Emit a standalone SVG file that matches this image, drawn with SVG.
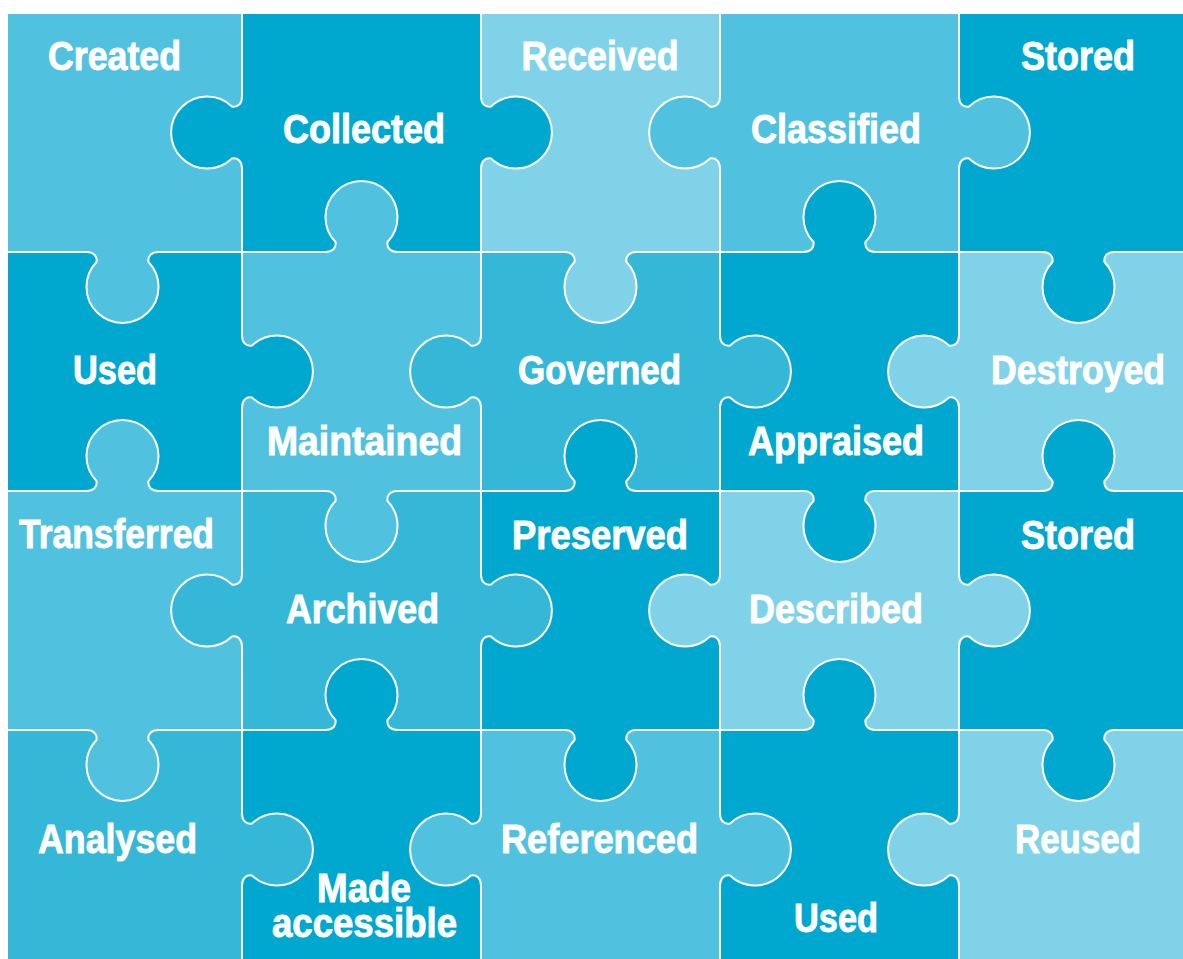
<svg xmlns="http://www.w3.org/2000/svg" width="1183" height="959" viewBox="0 0 1183 959">
<style>
.pc{fill-rule:evenodd}
.d{fill:#00a8cf}.m{fill:#50c1df}.l{fill:#80d2e8}.g{fill:#35b7d8}
.cut{fill:none;stroke:#fff;stroke-width:2;stroke-linecap:round;stroke-linejoin:round}
.t{fill:#fff;stroke:#fff;stroke-width:0.9;font-family:"Liberation Sans Narrow","Liberation Sans",Arial,sans-serif;font-weight:bold;font-size:40px;text-anchor:middle}
</style>
<rect width="1183" height="959" fill="#fff"/>
<g id="pieces">
<g id="created"><path class="pc m" d="M8,14H242V252H8Z M242,96.5c0,7 -4,11 -10,10a36,36 0 1 0 0,52c6,-1 10,3 10,10z M86.5,252c7,0 11,4 10,10a36,36 0 1 0 52,0c-1,-6 3,-10 10,-10z"/><text class="t" x="114.5" y="70" textLength="133" lengthAdjust="spacingAndGlyphs">Created</text></g>
<g id="collected"><path class="pc d" d="M242,14H481V252H242Z M242,96.5c0,7 -4,11 -10,10a36,36 0 1 0 0,52c6,-1 10,3 10,10z M481,168.5c0,-7 4,-11 10,-10a36,36 0 1 0 0,-52c-6,1 -10,-3 -10,-10z M397.5,252c-7,0 -11,-4 -10,-10a36,36 0 1 0 -52,0c1,6 -3,10 -10,10z"/><text class="t" x="364" y="143" textLength="162" lengthAdjust="spacingAndGlyphs">Collected</text></g>
<g id="received"><path class="pc l" d="M481,14H720V252H481Z M481,168.5c0,-7 4,-11 10,-10a36,36 0 1 0 0,-52c-6,1 -10,-3 -10,-10z M720,96.5c0,7 -4,11 -10,10a36,36 0 1 0 0,52c6,-1 10,3 10,10z M564.5,252c7,0 11,4 10,10a36,36 0 1 0 52,0c-1,-6 3,-10 10,-10z"/><text class="t" x="600" y="70" textLength="157" lengthAdjust="spacingAndGlyphs">Received</text></g>
<g id="classified"><path class="pc m" d="M720,14H959V252H720Z M720,96.5c0,7 -4,11 -10,10a36,36 0 1 0 0,52c6,-1 10,3 10,10z M959,168.5c0,-7 4,-11 10,-10a36,36 0 1 0 0,-52c-6,1 -10,-3 -10,-10z M875.5,252c-7,0 -11,-4 -10,-10a36,36 0 1 0 -52,0c1,6 -3,10 -10,10z"/><text class="t" x="836" y="143" textLength="170" lengthAdjust="spacingAndGlyphs">Classified</text></g>
<g id="stored1"><path class="pc d" d="M959,14H1183V252H959Z M959,168.5c0,-7 4,-11 10,-10a36,36 0 1 0 0,-52c-6,1 -10,-3 -10,-10z M1042.5,252c7,0 11,4 10,10a36,36 0 1 0 52,0c-1,-6 3,-10 10,-10z"/><text class="t" x="1078" y="70" textLength="114" lengthAdjust="spacingAndGlyphs">Stored</text></g>

<g id="used1"><path class="pc d" d="M8,252H242V491H8Z M86.5,252c7,0 11,4 10,10a36,36 0 1 0 52,0c-1,-6 3,-10 10,-10z M242,407.5c0,-7 4,-11 10,-10a36,36 0 1 0 0,-52c-6,1 -10,-3 -10,-10z M158.5,491c-7,0 -11,-4 -10,-10a36,36 0 1 0 -52,0c1,6 -3,10 -10,10z"/><text class="t" x="115" y="384" textLength="84" lengthAdjust="spacingAndGlyphs">Used</text></g>
<g id="maintained"><path class="pc m" d="M242,252H481V491H242Z M397.5,252c-7,0 -11,-4 -10,-10a36,36 0 1 0 -52,0c1,6 -3,10 -10,10z M242,407.5c0,-7 4,-11 10,-10a36,36 0 1 0 0,-52c-6,1 -10,-3 -10,-10z M481,335.5c0,7 -4,11 -10,10a36,36 0 1 0 0,52c6,-1 10,3 10,10z M325.5,491c7,0 11,4 10,10a36,36 0 1 0 52,0c-1,-6 3,-10 10,-10z"/><text class="t" x="364.5" y="455" textLength="195" lengthAdjust="spacingAndGlyphs">Maintained</text></g>
<g id="governed"><path class="pc g" d="M481,252H720V491H481Z M564.5,252c7,0 11,4 10,10a36,36 0 1 0 52,0c-1,-6 3,-10 10,-10z M481,335.5c0,7 -4,11 -10,10a36,36 0 1 0 0,52c6,-1 10,3 10,10z M720,407.5c0,-7 4,-11 10,-10a36,36 0 1 0 0,-52c-6,1 -10,-3 -10,-10z M636.5,491c-7,0 -11,-4 -10,-10a36,36 0 1 0 -52,0c1,6 -3,10 -10,10z"/><text class="t" x="599.5" y="384" textLength="163" lengthAdjust="spacingAndGlyphs">Governed</text></g>
<g id="appraised"><path class="pc d" d="M720,252H959V491H720Z M875.5,252c-7,0 -11,-4 -10,-10a36,36 0 1 0 -52,0c1,6 -3,10 -10,10z M720,407.5c0,-7 4,-11 10,-10a36,36 0 1 0 0,-52c-6,1 -10,-3 -10,-10z M959,335.5c0,7 -4,11 -10,10a36,36 0 1 0 0,52c6,-1 10,3 10,10z M803.5,491c7,0 11,4 10,10a36,36 0 1 0 52,0c-1,-6 3,-10 10,-10z"/><text class="t" x="836" y="455" textLength="176" lengthAdjust="spacingAndGlyphs">Appraised</text></g>
<g id="destroyed"><path class="pc l" d="M959,252H1183V491H959Z M1042.5,252c7,0 11,4 10,10a36,36 0 1 0 52,0c-1,-6 3,-10 10,-10z M959,335.5c0,7 -4,11 -10,10a36,36 0 1 0 0,52c6,-1 10,3 10,10z M1114.5,491c-7,0 -11,-4 -10,-10a36,36 0 1 0 -52,0c1,6 -3,10 -10,10z"/><text class="t" x="1078" y="384" textLength="174" lengthAdjust="spacingAndGlyphs">Destroyed</text></g>

<g id="transferred"><path class="pc m" d="M8,491H242V730H8Z M158.5,491c-7,0 -11,-4 -10,-10a36,36 0 1 0 -52,0c1,6 -3,10 -10,10z M242,574.5c0,7 -4,11 -10,10a36,36 0 1 0 0,52c6,-1 10,3 10,10z M86.5,730c7,0 11,4 10,10a36,36 0 1 0 52,0c-1,-6 3,-10 10,-10z"/><text class="t" x="116.5" y="548" textLength="195" lengthAdjust="spacingAndGlyphs">Transferred</text></g>
<g id="archived"><path class="pc g" d="M242,491H481V730H242Z M325.5,491c7,0 11,4 10,10a36,36 0 1 0 52,0c-1,-6 3,-10 10,-10z M242,574.5c0,7 -4,11 -10,10a36,36 0 1 0 0,52c6,-1 10,3 10,10z M481,646.5c0,-7 4,-11 10,-10a36,36 0 1 0 0,-52c-6,1 -10,-3 -10,-10z M397.5,730c-7,0 -11,-4 -10,-10a36,36 0 1 0 -52,0c1,6 -3,10 -10,10z"/><text class="t" x="362.5" y="623" textLength="153" lengthAdjust="spacingAndGlyphs">Archived</text></g>
<g id="preserved"><path class="pc d" d="M481,491H720V730H481Z M636.5,491c-7,0 -11,-4 -10,-10a36,36 0 1 0 -52,0c1,6 -3,10 -10,10z M481,646.5c0,-7 4,-11 10,-10a36,36 0 1 0 0,-52c-6,1 -10,-3 -10,-10z M720,574.5c0,7 -4,11 -10,10a36,36 0 1 0 0,52c6,-1 10,3 10,10z M564.5,730c7,0 11,4 10,10a36,36 0 1 0 52,0c-1,-6 3,-10 10,-10z"/><text class="t" x="600" y="549" textLength="176" lengthAdjust="spacingAndGlyphs">Preserved</text></g>
<g id="described"><path class="pc l" d="M720,491H959V730H720Z M803.5,491c7,0 11,4 10,10a36,36 0 1 0 52,0c-1,-6 3,-10 10,-10z M720,574.5c0,7 -4,11 -10,10a36,36 0 1 0 0,52c6,-1 10,3 10,10z M959,646.5c0,-7 4,-11 10,-10a36,36 0 1 0 0,-52c-6,1 -10,-3 -10,-10z M875.5,730c-7,0 -11,-4 -10,-10a36,36 0 1 0 -52,0c1,6 -3,10 -10,10z"/><text class="t" x="836" y="623" textLength="174" lengthAdjust="spacingAndGlyphs">Described</text></g>
<g id="stored2"><path class="pc d" d="M959,491H1183V730H959Z M1114.5,491c-7,0 -11,-4 -10,-10a36,36 0 1 0 -52,0c1,6 -3,10 -10,10z M959,646.5c0,-7 4,-11 10,-10a36,36 0 1 0 0,-52c-6,1 -10,-3 -10,-10z M1042.5,730c7,0 11,4 10,10a36,36 0 1 0 52,0c-1,-6 3,-10 10,-10z"/><text class="t" x="1078" y="549" textLength="114" lengthAdjust="spacingAndGlyphs">Stored</text></g>

<g id="analysed"><path class="pc g" d="M8,730H242V959H8Z M86.5,730c7,0 11,4 10,10a36,36 0 1 0 52,0c-1,-6 3,-10 10,-10z M242,885.5c0,-7 4,-11 10,-10a36,36 0 1 0 0,-52c-6,1 -10,-3 -10,-10z"/><text class="t" x="117.5" y="853" textLength="159" lengthAdjust="spacingAndGlyphs">Analysed</text></g>
<g id="made-accessible"><path class="pc d" d="M242,730H481V959H242Z M397.5,730c-7,0 -11,-4 -10,-10a36,36 0 1 0 -52,0c1,6 -3,10 -10,10z M242,885.5c0,-7 4,-11 10,-10a36,36 0 1 0 0,-52c-6,1 -10,-3 -10,-10z M481,813.5c0,7 -4,11 -10,10a36,36 0 1 0 0,52c6,-1 10,3 10,10z"/><text class="t" x="364" y="902" textLength="94" lengthAdjust="spacingAndGlyphs">Made</text><text class="t" x="364.5" y="937" textLength="185" lengthAdjust="spacingAndGlyphs">accessible</text></g>
<g id="referenced"><path class="pc m" d="M481,730H720V959H481Z M564.5,730c7,0 11,4 10,10a36,36 0 1 0 52,0c-1,-6 3,-10 10,-10z M481,813.5c0,7 -4,11 -10,10a36,36 0 1 0 0,52c6,-1 10,3 10,10z M720,885.5c0,-7 4,-11 10,-10a36,36 0 1 0 0,-52c-6,1 -10,-3 -10,-10z"/><text class="t" x="599.5" y="853" textLength="197" lengthAdjust="spacingAndGlyphs">Referenced</text></g>
<g id="used2"><path class="pc d" d="M720,730H959V959H720Z M875.5,730c-7,0 -11,-4 -10,-10a36,36 0 1 0 -52,0c1,6 -3,10 -10,10z M720,885.5c0,-7 4,-11 10,-10a36,36 0 1 0 0,-52c-6,1 -10,-3 -10,-10z M959,813.5c0,7 -4,11 -10,10a36,36 0 1 0 0,52c6,-1 10,3 10,10z"/><text class="t" x="836" y="932" textLength="84" lengthAdjust="spacingAndGlyphs">Used</text></g>
<g id="reused"><path class="pc l" d="M959,730H1183V959H959Z M1042.5,730c7,0 11,4 10,10a36,36 0 1 0 52,0c-1,-6 3,-10 10,-10z M959,813.5c0,7 -4,11 -10,10a36,36 0 1 0 0,52c6,-1 10,3 10,10z"/><text class="t" x="1078" y="853" textLength="126" lengthAdjust="spacingAndGlyphs">Reused</text></g>
</g>
<g id="cuts">
<path class="cut" d="M8,252H86.5M158.5,252H325.5M397.5,252H564.5M636.5,252H803.5M875.5,252H1042.5M1114.5,252H1183
M8,491H86.5M158.5,491H325.5M397.5,491H564.5M636.5,491H803.5M875.5,491H1042.5M1114.5,491H1183
M8,730H86.5M158.5,730H325.5M397.5,730H564.5M636.5,730H803.5M875.5,730H1042.5M1114.5,730H1183
M242,14V96.5M242,168.5V335.5M242,407.5V574.5M242,646.5V813.5M242,885.5V959
M481,14V96.5M481,168.5V335.5M481,407.5V574.5M481,646.5V813.5M481,885.5V959
M720,14V96.5M720,168.5V335.5M720,407.5V574.5M720,646.5V813.5M720,885.5V959
M959,14V96.5M959,168.5V335.5M959,407.5V574.5M959,646.5V813.5M959,885.5V959"/>
<path class="cut" d="M86.5,252c7,0 11,4 10,10a36,36 0 1 0 52,0c-1,-6 3,-10 10,-10
M397.5,252c-7,0 -11,-4 -10,-10a36,36 0 1 0 -52,0c1,6 -3,10 -10,10
M564.5,252c7,0 11,4 10,10a36,36 0 1 0 52,0c-1,-6 3,-10 10,-10
M875.5,252c-7,0 -11,-4 -10,-10a36,36 0 1 0 -52,0c1,6 -3,10 -10,10
M1042.5,252c7,0 11,4 10,10a36,36 0 1 0 52,0c-1,-6 3,-10 10,-10
M158.5,491c-7,0 -11,-4 -10,-10a36,36 0 1 0 -52,0c1,6 -3,10 -10,10
M325.5,491c7,0 11,4 10,10a36,36 0 1 0 52,0c-1,-6 3,-10 10,-10
M636.5,491c-7,0 -11,-4 -10,-10a36,36 0 1 0 -52,0c1,6 -3,10 -10,10
M803.5,491c7,0 11,4 10,10a36,36 0 1 0 52,0c-1,-6 3,-10 10,-10
M1114.5,491c-7,0 -11,-4 -10,-10a36,36 0 1 0 -52,0c1,6 -3,10 -10,10
M86.5,730c7,0 11,4 10,10a36,36 0 1 0 52,0c-1,-6 3,-10 10,-10
M397.5,730c-7,0 -11,-4 -10,-10a36,36 0 1 0 -52,0c1,6 -3,10 -10,10
M564.5,730c7,0 11,4 10,10a36,36 0 1 0 52,0c-1,-6 3,-10 10,-10
M875.5,730c-7,0 -11,-4 -10,-10a36,36 0 1 0 -52,0c1,6 -3,10 -10,10
M1042.5,730c7,0 11,4 10,10a36,36 0 1 0 52,0c-1,-6 3,-10 10,-10
M242,96.5c0,7 -4,11 -10,10a36,36 0 1 0 0,52c6,-1 10,3 10,10
M481,168.5c0,-7 4,-11 10,-10a36,36 0 1 0 0,-52c-6,1 -10,-3 -10,-10
M720,96.5c0,7 -4,11 -10,10a36,36 0 1 0 0,52c6,-1 10,3 10,10
M959,168.5c0,-7 4,-11 10,-10a36,36 0 1 0 0,-52c-6,1 -10,-3 -10,-10
M242,407.5c0,-7 4,-11 10,-10a36,36 0 1 0 0,-52c-6,1 -10,-3 -10,-10
M481,335.5c0,7 -4,11 -10,10a36,36 0 1 0 0,52c6,-1 10,3 10,10
M720,407.5c0,-7 4,-11 10,-10a36,36 0 1 0 0,-52c-6,1 -10,-3 -10,-10
M959,335.5c0,7 -4,11 -10,10a36,36 0 1 0 0,52c6,-1 10,3 10,10
M242,574.5c0,7 -4,11 -10,10a36,36 0 1 0 0,52c6,-1 10,3 10,10
M481,646.5c0,-7 4,-11 10,-10a36,36 0 1 0 0,-52c-6,1 -10,-3 -10,-10
M720,574.5c0,7 -4,11 -10,10a36,36 0 1 0 0,52c6,-1 10,3 10,10
M959,646.5c0,-7 4,-11 10,-10a36,36 0 1 0 0,-52c-6,1 -10,-3 -10,-10
M242,885.5c0,-7 4,-11 10,-10a36,36 0 1 0 0,-52c-6,1 -10,-3 -10,-10
M481,813.5c0,7 -4,11 -10,10a36,36 0 1 0 0,52c6,-1 10,3 10,10
M720,885.5c0,-7 4,-11 10,-10a36,36 0 1 0 0,-52c-6,1 -10,-3 -10,-10
M959,813.5c0,7 -4,11 -10,10a36,36 0 1 0 0,52c6,-1 10,3 10,10"/>
</g>
</svg>
